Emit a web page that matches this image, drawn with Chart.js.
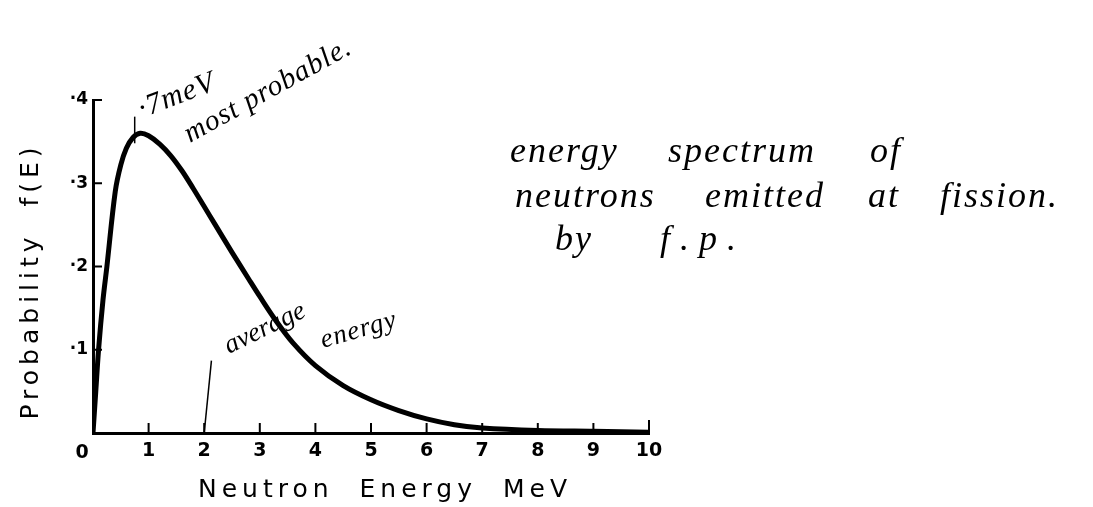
<!DOCTYPE html>
<html>
<head>
<meta charset="utf-8">
<script src="https://cdn.jsdelivr.net/npm/chart.js@4.4.1/dist/chart.umd.min.js"></script>
<style>
html,body{margin:0;padding:0;background:#fff;overflow:hidden}
#wrap{width:1093px;height:507px;position:relative;background:#fff}
</style>
</head>
<body>
<div id="wrap"><canvas id="c" width="1093" height="507"></canvas></div>
<script>
// ---- data ----
const energyMeV   = [0, 0.05, 0.1, 0.18, 0.25, 0.4, 0.5, 0.6, 0.72, 0.85, 1.0, 1.2, 1.4, 1.6, 1.8, 2.0, 2.2, 2.5, 2.8, 3.0, 3.3, 3.6, 4.0, 4.5, 5.0, 5.5, 6.0, 6.5, 7.0, 8.0, 9.0, 10.0];
const probability = [0, 0.05, 0.10, 0.16, 0.20, 0.29, 0.322, 0.342, 0.355, 0.36, 0.357, 0.347, 0.333, 0.315, 0.294, 0.272, 0.250, 0.217, 0.185, 0.164, 0.134, 0.108, 0.081, 0.057, 0.04, 0.027, 0.017, 0.010, 0.006, 0.003, 0.002, 0.001];

const avgMarkerE  = [2.0, 2.13];
const avgMarkerP  = [0, 0.087];
const peakMarkerE = [0.75, 0.75];
const peakMarkerP = [0.348, 0.38];

const xTickValues = [0, 1, 2, 3, 4, 5, 6, 7, 8, 9, 10];
const xTickLabels = ['0', '1', '2', '3', '4', '5', '6', '7', '8', '9', '10'];
const yTickValues = [0, 0.1, 0.2, 0.3, 0.4];
const yTickLabels = ['', '·1', '·2', '·3', '·4'];

const xAxisTitle = 'Neutron  Energy  MeV';
const yAxisTitle = 'Probability  f(E)';
const peakNote1 = '·7meV';
const peakNote2 = 'most probable.';
const avgNote1 = 'average';
const avgNote2 = 'energy';
const captionLines = [
  ['energy', 'spectrum', 'of'],
  ['neutrons', 'emitted', 'at', 'fission.'],
  ['by', 'f.p.']
];

const toXY = (xs, ys) => xs.map((x, i) => ({x: x, y: ys[i]}));
const HAND_FONT = '"Liberation Serif", "DejaVu Serif", "Times New Roman", serif';

const handPlugin = {
  id: 'hand',
  afterDraw(chart) {
    const ctx = chart.ctx;
    const xs = chart.scales.x, ys = chart.scales.y;
    const x0 = xs.getPixelForValue(0), y0 = ys.getPixelForValue(0);
    ctx.save();
    ctx.strokeStyle = '#000';
    ctx.fillStyle = '#000';
    // inward tick marks
    ctx.lineWidth = 2;
    xTickValues.forEach(v => {
      if (v === 0) return;
      const px = xs.getPixelForValue(v);
      ctx.beginPath(); ctx.moveTo(px, y0); ctx.lineTo(px, y0 - (v === 10 ? 13 : 10)); ctx.stroke();
    });
    yTickValues.forEach(v => {
      if (v === 0) return;
      const py = ys.getPixelForValue(v);
      ctx.beginPath(); ctx.moveTo(x0, py); ctx.lineTo(x0 + 9, py); ctx.stroke();
    });
    // "0" label, set left of origin
    ctx.font = 'bold 19px "DejaVu Sans"';
    ctx.textAlign = 'center';
    ctx.textBaseline = 'alphabetic';
    ctx.fillText(xTickLabels[0], x0 - 11, 458);

    // axis titles
    ctx.letterSpacing = '5px';
    ctx.font = '25px "DejaVu Sans"';
    ctx.textAlign = 'center';
    ctx.fillText(xAxisTitle, 385, 497);
    ctx.save();
    ctx.translate(38, 281);
    ctx.rotate(-Math.PI / 2);
    ctx.fillText(yAxisTitle, 0, 0);
    ctx.restore();
    ctx.letterSpacing = '0px';

    // handwritten notes
    const hand = (t, x, y, deg, size, sp) => {
      ctx.save();
      ctx.translate(x, y);
      ctx.rotate(deg * Math.PI / 180);
      ctx.letterSpacing = sp + 'px';
      ctx.font = 'italic ' + size + 'px ' + HAND_FONT;
      ctx.textAlign = 'left';
      ctx.textBaseline = 'alphabetic';
      ctx.fillText(t, 0, 0);
      ctx.restore();
    };
    hand(peakNote1, 142, 118, -21, 30, 1);
    hand(peakNote2, 190, 143, -29, 29, 1);
    hand(avgNote1, 229, 354, -26, 27, 0);
    hand(avgNote2, 323, 348, -16, 27, 1);

    const capX = [[510, 668, 870], [515, 705, 868, 940], [555, 660]];
    const capY = [162, 207, 250];
    captionLines.forEach((words, li) => {
      words.forEach((w, wi) => hand(w, capX[li][wi], capY[li], 0, 36, li === 2 && wi === 1 ? 10 : 2));
    });
    ctx.restore();
  }
};

new Chart(document.getElementById('c'), {
  type: 'scatter',
  data: {
    datasets: [
      { data: toXY(energyMeV, probability), showLine: true, borderColor: '#000', borderWidth: 5,
        pointRadius: 0, fill: false, tension: 0.35, borderCapStyle: 'round', borderJoinStyle: 'round' },
      { data: toXY(avgMarkerE, avgMarkerP), showLine: true, borderColor: '#000', borderWidth: 1.5, pointRadius: 0 },
      { data: toXY(peakMarkerE, peakMarkerP), showLine: true, borderColor: '#000', borderWidth: 1.5, pointRadius: 0 }
    ]
  },
  options: {
    responsive: false,
    animation: false,
    devicePixelRatio: 1,
    layout: { padding: { left: 0, right: 444, top: 100, bottom: 0 } },
    plugins: { legend: { display: false }, tooltip: { enabled: false } },
    scales: {
      x: {
        type: 'linear', min: 0, max: 10,
        afterBuildTicks: s => { s.ticks = xTickValues.map(v => ({ value: v })); },
        afterFit: s => { s.height = 74; },
        ticks: {
          callback: v => (v === 0 ? '' : xTickLabels[xTickValues.indexOf(v)]),
          font: { family: 'DejaVu Sans', weight: 'bold', size: 19 },
          color: '#000', padding: 7, maxRotation: 0, autoSkip: false
        },
        grid: { display: false, drawTicks: false },
        border: { display: true, color: '#000', width: 3 }
      },
      y: {
        type: 'linear', min: 0, max: 0.4,
        afterBuildTicks: s => { s.ticks = yTickValues.map(v => ({ value: v })); },
        afterFit: s => { s.width = 93; },
        ticks: {
          callback: v => yTickLabels[yTickValues.findIndex(t => Math.abs(t - v) < 1e-9)],
          font: { family: 'DejaVu Sans', weight: 'bold', size: 17 },
          color: '#000', padding: 5, autoSkip: false
        },
        grid: { display: false, drawTicks: false },
        border: { display: true, color: '#000', width: 3 }
      }
    }
  },
  plugins: [handPlugin]
});
</script>
</body>
</html>
